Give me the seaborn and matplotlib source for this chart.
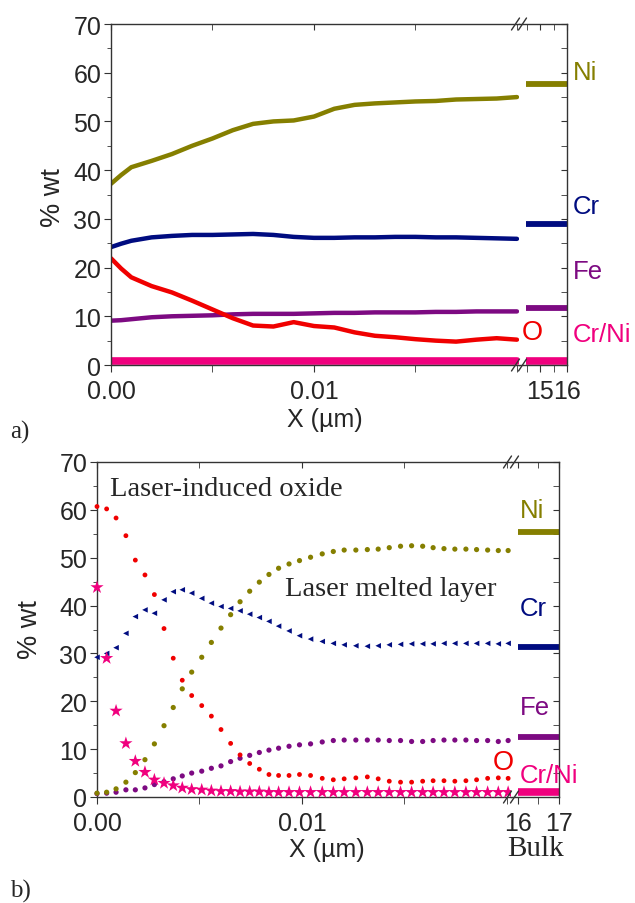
import matplotlib
matplotlib.use("Agg")
import matplotlib.pyplot as plt
import seaborn as sns
import pandas as pd
from matplotlib.ticker import FixedLocator, NullFormatter

sns.set_style("ticks")
plt.rcParams['font.family'] = ['Liberation Sans', 'DejaVu Sans']

# ---------------- data : panel a (continuous profiles) ----------------
x_a = [0.0, 0.0005, 0.001, 0.002, 0.003, 0.004, 0.005, 0.006, 0.007, 0.008, 0.009,
       0.010, 0.011, 0.012, 0.013, 0.014, 0.015, 0.016, 0.017, 0.018, 0.019, 0.020]
ni_a = [37.2, 39.0, 40.6, 41.9, 43.3, 45.0, 46.5, 48.2, 49.5, 50.0, 50.2,
        51.0, 52.6, 53.4, 53.7, 53.9, 54.1, 54.2, 54.5, 54.6, 54.7, 55.0]
cr_a = [24.2, 24.9, 25.5, 26.2, 26.5, 26.7, 26.7, 26.8, 26.9, 26.7, 26.3,
        26.1, 26.1, 26.2, 26.2, 26.3, 26.3, 26.2, 26.2, 26.1, 26.0, 25.9]
fe_a = [9.1, 9.2, 9.4, 9.8, 10.0, 10.1, 10.2, 10.4, 10.5, 10.5, 10.5,
        10.6, 10.7, 10.7, 10.8, 10.8, 10.8, 10.9, 10.9, 11.0, 11.0, 11.0]
o_a = [21.9, 19.8, 18.0, 16.2, 14.9, 13.2, 11.4, 9.6, 8.1, 7.9, 8.8,
       8.0, 7.7, 6.7, 6.0, 5.7, 5.3, 5.0, 4.8, 5.2, 5.5, 5.2]
crni_a = [0.9, 0.9, 0.9, 0.9, 0.9, 0.9, 0.9, 0.9, 0.9, 0.9, 0.9,
          0.9, 0.9, 0.9, 0.9, 0.9, 0.9, 0.9, 0.9, 0.9, 0.9, 0.9]
bulk_span_a = [14.48, 16.0]
bulk_a = {"Ni": 57.7, "Cr": 28.9, "Fe": 11.8, "Cr/Ni": 0.9}

# ---------------- data : panel b (discrete points) ----------------
x_b = [0.0000, 0.00047, 0.00093, 0.00141, 0.00187, 0.00234, 0.00280, 0.00327, 0.00372,
       0.00416, 0.00462, 0.00511, 0.00558, 0.00605, 0.00652, 0.00698, 0.00745, 0.00792,
       0.00839, 0.00886, 0.00937, 0.00988, 0.01042, 0.01099, 0.01153, 0.01206, 0.01263,
       0.01319, 0.01372, 0.01426, 0.01481, 0.01535, 0.01589, 0.01640, 0.01693, 0.01746,
       0.01800, 0.01852, 0.01906, 0.01958, 0.02006]
o_b = [60.7, 60.2, 58.3, 54.6, 49.5, 46.4, 42.3, 35.2, 29.0, 24.4, 21.2, 19.1, 16.9, 14.1,
       11.2, 8.8, 7.0, 5.8, 4.7, 4.5, 4.5, 4.7, 4.5, 3.9, 3.6, 3.8, 4.0, 4.2, 3.8, 3.3,
       3.1, 3.1, 3.3, 3.4, 3.4, 3.3, 3.4, 3.6, 3.9, 4.0, 3.9]
ni_b = [0.8, 1.0, 1.7, 3.1, 5.1, 7.8, 11.1, 14.9, 18.7, 22.6, 26.1, 29.2, 32.3, 35.3,
        38.1, 40.8, 43.0, 44.9, 46.5, 47.8, 48.7, 49.4, 50.1, 50.8, 51.3, 51.6, 51.6,
        51.7, 51.8, 52.1, 52.4, 52.5, 52.4, 52.1, 51.9, 51.8, 51.8, 51.7, 51.6, 51.5, 51.5]
cr_b = [29.2, 30.0, 31.2, 34.2, 37.7, 39.1, 38.4, 41.2, 42.9, 43.3, 42.6, 41.5, 40.5, 39.8,
        39.4, 38.9, 38.2, 37.5, 36.7, 35.7, 34.7, 33.7, 33.0, 32.5, 32.1, 31.8, 31.6,
        31.5, 31.6, 31.8, 31.9, 32.0, 32.0, 32.0, 32.1, 32.1, 32.1, 32.1, 32.1, 32.0, 32.1]
fe_b = [0.7, 0.8, 1.0, 1.5, 1.5, 1.9, 2.6, 3.2, 3.8, 4.4, 5.0, 5.4, 6.0, 6.5, 7.4, 8.1,
        8.7, 9.3, 9.8, 10.2, 10.6, 10.9, 11.1, 11.5, 11.8, 11.9, 11.9, 11.9, 11.9, 11.8,
        11.8, 11.6, 11.6, 11.8, 11.9, 11.9, 11.9, 11.8, 11.8, 11.6, 11.8]
crni_b = [43.8, 29.0, 18.0, 11.2, 7.5, 5.2, 3.6, 2.9, 2.4, 1.9, 1.6, 1.5, 1.3, 1.2, 1.2,
          1.1, 1.1, 1.1, 1.0, 1.0, 1.0, 1.0, 1.0, 1.0, 1.0, 1.0, 1.0, 1.0, 1.0, 1.0, 1.0,
          1.0, 1.0, 1.0, 1.0, 1.0, 1.0, 1.0, 1.0, 1.0, 1.0]
bulk_span_b = [16.0, 17.0]
bulk_b = {"Ni": 55.4, "Cr": 31.3, "Fe": 12.5, "Cr/Ni": 1.0}

colors = {"Ni": "#857F00", "Cr": "#000C80", "Fe": "#7D0A82", "O": "#F00000", "Cr/Ni": "#F0007E"}

W, H = 635, 904
fig = plt.figure(figsize=(W / 100, H / 100), dpi=100)


def rect(l, r, t, b):
    return [l / W, 1 - b / H, (r - l) / W, (b - t) / H]


def fx(px):
    return px / W


def fy(py):
    return 1 - py / H


TICK_FS = 18
LAB_FS = 18.5
serif = ["Liberation Serif", "DejaVu Serif"]


def style_pair(axm, axb, main_xlim, main_major, main_minor, main_labels,
               bulk_xlim, bulk_major, bulk_minor, bulk_labels):
    for ax in (axm, axb):
        ax.set_ylim(0, 70)
        for s in ax.spines.values():
            s.set_linewidth(1.0)
            s.set_color("#333333")
        ax.set_xlabel("")
        ax.set_ylabel("")
        ax.set_facecolor("white")
    axm.spines["right"].set_visible(False)
    axb.spines["left"].set_visible(False)
    axm.set_xlim(*main_xlim)
    axb.set_xlim(*bulk_xlim)
    axm.yaxis.set_major_locator(FixedLocator([0, 10, 20, 30, 40, 50, 60, 70]))
    axm.yaxis.set_minor_locator(FixedLocator([5, 15, 25, 35, 45, 55, 65]))
    axm.set_yticklabels(["0", "10", "20", "30", "40", "50", "60", "70"])
    axm.tick_params(axis="y", which="both", direction="out", left=True, right=False,
                    labelsize=TICK_FS, pad=2, color="#333333")
    axm.tick_params(axis="y", which="major", length=5)
    axm.tick_params(axis="y", which="minor", length=3)
    axb.yaxis.set_major_locator(FixedLocator([0, 10, 20, 30, 40, 50, 60, 70]))
    axb.yaxis.set_minor_locator(FixedLocator([5, 15, 25, 35, 45, 55, 65]))
    axb.tick_params(axis="y", which="both", direction="in", left=False, right=True,
                    labelleft=False, labelright=False, length=4, color="#333333")
    axm.xaxis.set_major_locator(FixedLocator(main_major))
    axm.xaxis.set_minor_locator(FixedLocator(main_minor))
    axm.set_xticklabels(main_labels)
    axb.xaxis.set_major_locator(FixedLocator(bulk_major))
    axb.xaxis.set_minor_locator(FixedLocator(bulk_minor))
    axb.set_xticklabels(bulk_labels)
    for ax in (axm, axb):
        ax.tick_params(axis="x", which="both", bottom=True, top=False, direction="out",
                       labelsize=TICK_FS, pad=5, length=5, color="#333333")
        ax.xaxis.set_minor_formatter(NullFormatter())
        sec = ax.secondary_xaxis("top")
        sec.xaxis.set_major_locator(FixedLocator(list(ax.xaxis.get_majorticklocs())))
        sec.xaxis.set_minor_locator(FixedLocator(list(ax.xaxis.get_minorticklocs())))
        sec.tick_params(axis="x", which="both", direction="in", length=4, labeltop=False,
                        color="#333333")
        sec.spines["top"].set_visible(False)


def break_marks(xpx, ytop, ybot):
    for yy in (ytop, ybot):
        for off in (-3.5, 3.5):
            fig.add_artist(plt.Line2D([fx(xpx + off - 4), fx(xpx + off + 4)],
                                      [fy(yy + 6), fy(yy - 6)],
                                      transform=fig.transFigure, color="#333333", lw=1.0))


# ================= panel a =================
axa = fig.add_axes(rect(111, 519, 25, 366))
axa2 = fig.add_axes(rect(519, 567, 25, 366), sharey=axa)

df_a = pd.DataFrame({"x": x_a, "Ni": ni_a, "Cr": cr_a, "Fe": fe_a, "O": o_a, "Cr/Ni": crni_a})
for name in ["Fe", "Cr", "Ni", "O"]:
    sns.lineplot(data=df_a, x="x", y=name, ax=axa, color=colors[name], lw=3.2,
                 marker=None, legend=False)
sns.lineplot(data=df_a, x="x", y="Cr/Ni", ax=axa, color=colors["Cr/Ni"], lw=5.5, legend=False)
for name, val in bulk_a.items():
    axa2.hlines(val, bulk_span_a[0], bulk_span_a[1], color=colors[name],
                lw=5.5 if name == "Cr/Ni" else 4.2)

style_pair(axa, axa2, (0, 0.0201), [0.0, 0.01], [0.005, 0.015, 0.02], ["0.00", "0.01"],
           (14.22, 16.0), [15, 16], [14.5, 15.5], ["15", "16"])
break_marks(519, 25, 366)

fig.text(fx(53), fy(198), "% wt", rotation=90, ha="center", va="center", fontsize=19.5)
fig.text(fx(325), fy(420), "X (\u00b5m)", ha="center", va="center", fontsize=TICK_FS)
fig.text(fx(573), fy(73), "Ni", ha="left", va="center", fontsize=LAB_FS, color=colors["Ni"])
fig.text(fx(573), fy(207), "Cr", ha="left", va="center", fontsize=LAB_FS, color=colors["Cr"])
fig.text(fx(573), fy(272), "Fe", ha="left", va="center", fontsize=LAB_FS, color=colors["Fe"])
fig.text(fx(573), fy(335), "Cr/Ni", ha="left", va="center", fontsize=LAB_FS, color=colors["Cr/Ni"])
fig.text(fx(522), fy(333), "O", ha="left", va="center", fontsize=LAB_FS + 1, color=colors["O"])
fig.text(fx(10), fy(432), "a)", ha="left", va="center", fontsize=TICK_FS, family=serif)

# ================= panel b =================
axb = fig.add_axes(rect(97, 511, 463, 798))
axb2 = fig.add_axes(rect(511, 559, 463, 798), sharey=axb)

df_b = pd.DataFrame({"x": x_b, "Ni": ni_b, "Cr": cr_b, "Fe": fe_b, "O": o_b, "Cr/Ni": crni_b})
sns.scatterplot(data=df_b, x="x", y="Fe", ax=axb, color=colors["Fe"], marker="o", s=14,
                edgecolor="none", legend=False, zorder=3)
sns.scatterplot(data=df_b, x="x", y="Ni", ax=axb, color=colors["Ni"], marker="o", s=14,
                edgecolor="none", legend=False, zorder=3)
sns.scatterplot(data=df_b, x="x", y="Cr", ax=axb, color=colors["Cr"], marker="<", s=16,
                edgecolor="none", legend=False, zorder=3)
sns.scatterplot(data=df_b, x="x", y="O", ax=axb, color=colors["O"], marker="o", s=12,
                edgecolor="none", legend=False, zorder=3)
sns.scatterplot(data=df_b, x="x", y="Cr/Ni", ax=axb, color=colors["Cr/Ni"], marker="*", s=100,
                edgecolor="none", legend=False, zorder=4)
for name, val in bulk_b.items():
    axb2.hlines(val, bulk_span_b[0], bulk_span_b[1], color=colors[name],
                lw=5.5 if name == "Cr/Ni" else 4.2)

style_pair(axb, axb2, (0, 0.0202), [0.0, 0.01], [0.005, 0.015, 0.02], ["0.00", "0.01"],
           (15.83, 17.0), [16, 17], [16.5], ["16", "17"])
for ax in (axb, axb2):
    for c in ax.collections:
        c.set_clip_on(False)
break_marks(511, 463, 798)

fig.text(fx(30), fy(630), "% wt", rotation=90, ha="center", va="center", fontsize=19.5)
fig.text(fx(327), fy(850), "X (\u00b5m)", ha="center", va="center", fontsize=TICK_FS)
fig.text(fx(536), fy(849), "Bulk", ha="center", va="center", fontsize=21, family=serif)
fig.text(fx(110), fy(490), "Laser-induced oxide", ha="left", va="center", fontsize=20.5, family=serif)
fig.text(fx(285), fy(590), "Laser melted layer", ha="left", va="center", fontsize=20.5, family=serif)
fig.text(fx(520), fy(511), "Ni", ha="left", va="center", fontsize=LAB_FS, color=colors["Ni"])
fig.text(fx(520), fy(609), "Cr", ha="left", va="center", fontsize=LAB_FS, color=colors["Cr"])
fig.text(fx(520), fy(708), "Fe", ha="left", va="center", fontsize=LAB_FS, color=colors["Fe"])
fig.text(fx(493), fy(763), "O", ha="left", va="center", fontsize=LAB_FS + 1, color=colors["O"])
fig.text(fx(520), fy(776), "Cr/Ni", ha="left", va="center", fontsize=LAB_FS, color=colors["Cr/Ni"])
fig.text(fx(10), fy(891), "b)", ha="left", va="center", fontsize=TICK_FS, family=serif)

fig.savefig("out.png", dpi=100, facecolor="white")
